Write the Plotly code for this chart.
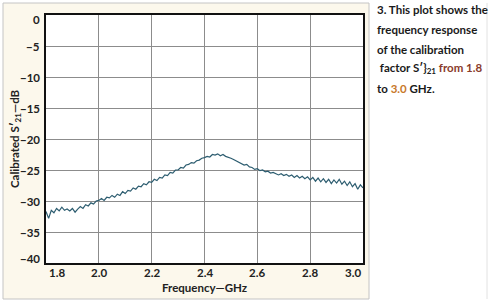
import plotly.graph_objects as go

freq = [round(1.80 + 0.01 * i, 2) for i in range(121)]
s21 = [
    -31.7, -32.8, -31.5, -31.9, -31.2, -31.6, -31.0, -31.5, -31.3, -31.6,
    -31.2, -31.8, -31.3, -30.9, -31.2, -30.6, -30.8, -30.3, -30.5, -30.0,
    -29.9, -29.6, -29.9, -29.4, -29.5, -29.1, -29.4, -28.9, -29.1, -28.5,
    -28.8, -28.3, -28.4, -27.9, -28.1, -27.6, -27.7, -27.2, -27.4, -26.9,
    -27.0, -26.5, -26.7, -26.2, -26.3, -25.8, -25.9, -25.4, -25.5, -25.0,
    -25.0, -24.6, -24.7, -24.2, -24.1, -23.8, -23.9, -23.5, -23.4, -23.1,
    -23.0, -22.8, -22.9, -22.5, -22.6, -22.4, -22.7, -22.5, -22.8, -22.9,
    -23.1, -23.3, -23.5, -23.8, -23.9, -24.2, -24.1, -24.5, -24.6, -24.9,
    -24.8, -25.1, -25.0, -25.3, -25.2, -25.5, -25.4, -25.6, -25.8, -25.6,
    -25.9, -25.7, -26.0, -25.8, -26.2, -25.9, -26.3, -26.0, -26.4, -26.1,
    -26.6, -26.2, -26.8, -26.3, -26.9, -26.4, -27.0, -26.5, -27.2, -26.6,
    -27.1, -26.5, -27.3, -26.8, -27.5, -26.9, -27.7, -27.2, -28.1, -27.4,
    -27.9,
]
x_ticks = [1.8, 2.0, 2.2, 2.4, 2.6, 2.8, 3.0]
x_tick_labels = ["1.8", "2.0", "2.2", "2.4", "2.6", "2.8", "3.0"]
y_ticks = [0, -5, -10, -15, -20, -25, -30, -35, -40]
y_tick_labels = ["0", "−5", "−10", "−15", "−20", "−25", "−30", "−35", "−40"]
x_title = "Frequency—GHz"
y_title = "Calibrated S′<sub>21</sub>—dB"
caption_lines = [
    "3. This plot shows the",
    "frequency response",
    "of the calibration",
    " factor S′}<sub>21</sub> <span style='color:#8a3b2b'>from 1.8</span>",
    "to <span style='color:#c8782a'>3.0</span> GHz.",
]

W, H = 493, 303
L, R, T, B = 46, 363, 15, 263
pw, ph = R - L, B - T

def px(x):
    return (x - L) / pw

def py(y):
    return (B - y) / ph

font_axis = "Lato, Roboto, sans-serif"
axis_font = dict(family=font_axis, size=11.5, color="#222222", weight="bold")

fig = go.Figure()
fig.add_trace(go.Scatter(x=freq, y=s21, mode="lines",
                         line=dict(color="#2d5d70", width=1.2),
                         showlegend=False, hoverinfo="skip"))

shapes = [
    dict(type="rect", xref="paper", yref="paper", x0=px(3), x1=px(369), y0=py(299), y1=py(3),
         fillcolor="#fcf8ec", line=dict(color="#c4c4c4", width=1), layer="below"),
    dict(type="rect", xref="paper", yref="paper", x0=0, x1=1, y0=0, y1=1,
         fillcolor="white", line=dict(width=0), layer="below"),
    dict(type="line", xref="paper", yref="paper", x0=px(487), x1=px(487), y0=py(299), y1=py(3),
         line=dict(color="#e2e2e2", width=1), layer="below"),
]

annotations = []
for i, (v, t) in enumerate(zip(x_ticks, x_tick_labels)):
    anchor = "left" if i == 0 else ("right" if i == len(x_ticks) - 1 else "center")
    annotations.append(dict(text=t, xref="x", yref="paper", x=v, y=py(272),
                            xanchor=anchor, yanchor="middle", showarrow=False,
                            xshift=1 if i == 0 else 0, font=axis_font))
for i, (v, t) in enumerate(zip(y_ticks, y_tick_labels)):
    yshift = -4 if i == 0 else (5 if i == len(y_ticks) - 1 else 0)
    annotations.append(dict(text=t, xref="paper", yref="y", x=px(44), y=v,
                            xanchor="right", yanchor="middle", showarrow=False,
                            xshift=-2, yshift=yshift, font=axis_font))
annotations.append(dict(text=x_title, xref="paper", yref="paper", x=0.5, y=py(287),
                        xanchor="center", yanchor="middle", showarrow=False, font=axis_font))
annotations.append(dict(text=y_title, xref="paper", yref="paper", x=px(15), y=0.5,
                        xanchor="center", yanchor="middle", showarrow=False, textangle=-90,
                        font=axis_font))
for i, line in enumerate(caption_lines):
    yc = 10 + 19.6 * i
    annotations.append(dict(text=line, xref="paper", yref="paper", x=px(375), y=py(yc),
                            xanchor="left", yanchor="middle", showarrow=False,
                            font=dict(family="Lato, Open Sans, sans-serif", size=11.5,
                                      color="#1a1a1a", weight="bold"),
                            align="left"))

fig.update_layout(
    width=W, height=H,
    margin=dict(l=L, r=W - R, t=T, b=H - B),
    paper_bgcolor="white", plot_bgcolor="white",
    shapes=shapes, annotations=annotations,
    xaxis=dict(range=[1.8, 3.0], tickvals=x_ticks, showticklabels=False,
               showgrid=True, gridcolor="#8c8c8c", gridwidth=1,
               showline=True, linecolor="#111111", linewidth=1.5, mirror=True,
               ticks="", zeroline=False),
    yaxis=dict(range=[-40, 0], tickvals=y_ticks, showticklabels=False,
               showgrid=True, gridcolor="#8c8c8c", gridwidth=1,
               showline=True, linecolor="#111111", linewidth=1.5, mirror=True,
               ticks="", zeroline=False),
)

fig.write_html("out.html")
